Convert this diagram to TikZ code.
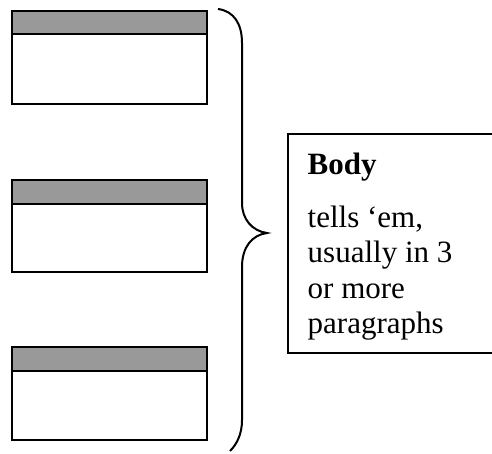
\documentclass[tikz,border=0pt]{standalone}
\usepackage{fontspec}
\setmainfont{Liberation Serif}
\begin{document}
\begin{tikzpicture}[x=1pt,y=-1pt,
  frame/.style={draw=black,line width=2pt},
  header/.style={draw=black,line width=2pt,fill=black!40},
  bodytext/.style={anchor=base west,inner sep=0pt,font=\fontsize{31}{35.5}\selectfont}]
  \useasboundingbox (0,0) rectangle (492,453);
  \clip (0,0) rectangle (492,453);

  % three stacked blocks, each with a grey title strip
  \foreach \t/\h/\b [count=\i] in {11/34/104, 180/203.5/272, 347/371/440}{
    \path[header] (11.5,\t) rectangle (206.5,\h);
    \path[frame] (11.5,\h) rectangle (206.5,\b);
    \coordinate (blk\i) at (206.5,\t);
  }

  % curly brace gathering the blocks
  \coordinate (bracetop) at (218,9);
  \coordinate (bracetip) at (267,233);
  \coordinate (bracebot) at (230,451);
  \draw[line width=2pt]
    (bracetop) .. controls (234,11) and (242,24) .. (242,43)
    -- (242,203) .. controls (242,219) and (252,231) .. (bracetip)
    .. controls (252,235) and (242,247) .. (242,267)
    -- (242,420) .. controls (242,434) and (237,444) .. (bracebot);

  % body frame, its right side running off the edge
  \draw[line width=2pt] (287.5,134) rectangle (500,352.5);
  \coordinate (body) at (287.5,243);

  \node[bodytext,font=\fontsize{31}{35.5}\selectfont\bfseries] (t0) at (307.5,174) {Body};
  \node[bodytext] (t1) at (307.5,227) {tells ‘em,};
  \node[bodytext] (t2) at (307.5,262.5) {usually in 3};
  \node[bodytext] (t3) at (307.5,298) {or more};
  \node[bodytext] (t4) at (307.5,333.5) {paragraphs};
\end{tikzpicture}
\end{document}
